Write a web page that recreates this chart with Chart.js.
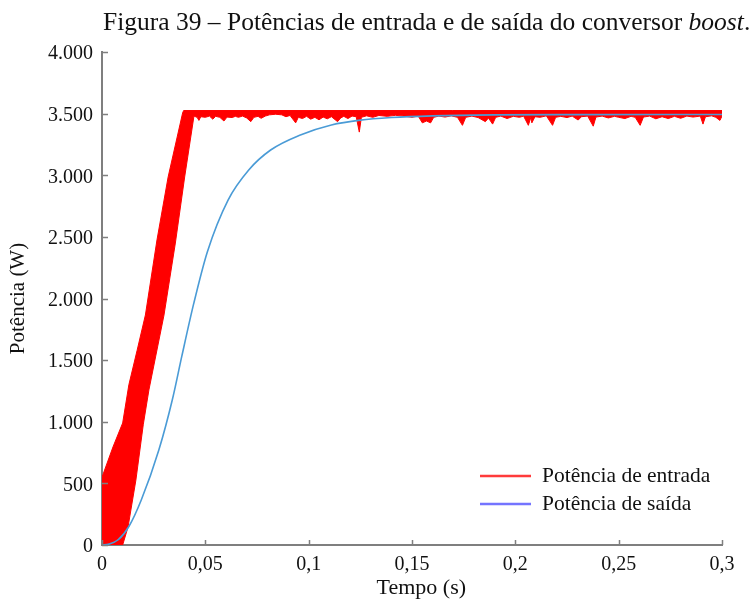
<!DOCTYPE html>
<html>
<head>
<meta charset="utf-8">
<script src="https://cdn.jsdelivr.net/npm/chart.js@4/dist/chart.umd.min.js"></script>
<style>
  html, body { margin: 0; padding: 0; background: #fff; }
  #wrap { position: relative; width: 754px; height: 599px; }
  #ttl {
    position: absolute; left: 103px; top: 9px; white-space: nowrap;
    font-family: 'Liberation Serif', 'Times New Roman', serif;
    font-size: 25.5px; line-height: 25.5px; color: #111;
  }
  canvas { position: absolute; left: 0; top: 0; }
</style>
</head>
<body>
<div id="wrap">
  <canvas id="c" width="754" height="599"></canvas>
  <div id="ttl">Figura 39 – Potências de entrada e de saída do conversor <i>boost</i>.</div>
</div>
<script>
// Axis ticks
const X_TICKS = [0, 0.05, 0.1, 0.15, 0.2, 0.25, 0.3];
const Y_TICKS = [0, 500, 1000, 1500, 2000, 2500, 3000, 3500, 4000];
const X_TITLE = 'Tempo (s)';
const Y_TITLE = 'Potência (W)';

// Series names
const SERIES_IN = 'Potência de entrada';
const SERIES_OUT = 'Potência de saída';

// Input power: the switching ripple forms a band, kept as its upper and lower envelopes [t (s), P (W)]
const inUpper = [
  [0, 550], [0.0053, 795], [0.010, 990], [0.013, 1300], [0.017, 1580], [0.021, 1866],
  [0.0266, 2475], [0.032, 2986], [0.039, 3505], [0.0395, 3525], [0.300, 3525]
];
const inLower = [
  [0, 0], [0.010, 0], [0.0126, 146], [0.0164, 527], [0.020, 980], [0.0227, 1258],
  [0.030, 1866], [0.0355, 2450], [0.040, 2986], [0.0445, 3480],
  [0.0460, 3470], [0.0469, 3445], [0.0478, 3475], [0.050, 3470], [0.052, 3480],
  [0.0536, 3455], [0.055, 3478], [0.057, 3470], [0.059, 3440], [0.0605, 3472],
  [0.063, 3468], [0.0645, 3478], [0.066, 3470], [0.068, 3480], [0.070, 3465],
  [0.072, 3435], [0.0735, 3470], [0.0755, 3478], [0.077, 3462], [0.079, 3480],
  [0.081, 3490], [0.084, 3495], [0.087, 3490], [0.089, 3475], [0.091, 3485],
  [0.0937, 3425], [0.095, 3470], [0.097, 3460], [0.099, 3478], [0.101, 3455],
  [0.103, 3470], [0.105, 3450], [0.107, 3472], [0.109, 3458], [0.111, 3475],
  [0.114, 3435], [0.1155, 3465], [0.117, 3478], [0.119, 3460], [0.121, 3480],
  [0.123, 3475], [0.1245, 3350], [0.1255, 3470], [0.128, 3482], [0.131, 3470],
  [0.134, 3485], [0.138, 3478], [0.142, 3486], [0.146, 3480], [0.150, 3470],
  [0.153, 3480], [0.155, 3425], [0.157, 3440], [0.159, 3425], [0.1605, 3470],
  [0.163, 3480], [0.166, 3472], [0.169, 3482], [0.172, 3470], [0.1744, 3405],
  [0.176, 3470], [0.179, 3480], [0.182, 3468], [0.1855, 3435], [0.187, 3465],
  [0.189, 3415], [0.1905, 3470], [0.193, 3480], [0.196, 3460], [0.199, 3478],
  [0.202, 3470], [0.204, 3480], [0.2063, 3405], [0.2075, 3470], [0.208, 3425],
  [0.2095, 3475], [0.212, 3470], [0.215, 3482], [0.218, 3405], [0.2195, 3470],
  [0.222, 3478], [0.225, 3468], [0.2275, 3480], [0.2304, 3448], [0.232, 3475],
  [0.235, 3480], [0.2377, 3398], [0.239, 3472], [0.242, 3480], [0.245, 3465],
  [0.248, 3478], [0.250, 3470], [0.253, 3460], [0.256, 3478], [0.258, 3470],
  [0.2604, 3405], [0.262, 3472], [0.265, 3480], [0.268, 3458], [0.271, 3475],
  [0.274, 3460], [0.277, 3478], [0.280, 3462], [0.283, 3480], [0.286, 3472],
  [0.2895, 3480], [0.2908, 3415], [0.292, 3475], [0.295, 3482], [0.297, 3470],
  [0.299, 3445], [0.300, 3480]
];

// Output power [t (s), P (W)]
const outPower = [
  [0, 0], [0.003, 5], [0.008, 45], [0.013, 150], [0.019, 365], [0.0275, 770],
  [0.034, 1176], [0.0386, 1530], [0.0444, 1960], [0.051, 2380], [0.061, 2799],
  [0.071, 3043], [0.0816, 3205], [0.096, 3327], [0.111, 3408], [0.125, 3447],
  [0.140, 3468], [0.160, 3482], [0.190, 3490], [0.230, 3492], [0.300, 3493]
];

const RED = '#ff0000';
const BLUE = '#4a9bd6';
const FONT = "'Liberation Serif', 'Times New Roman', serif";
const AXIS_GRAY = '#7f7f7f';

const toXY = p => ({ x: p[0], y: p[1] });
// closed outline of the ripple band: upper edge forward, lower edge back
const bandShape = inUpper.map(toXY).concat(inLower.slice().reverse().map(toXY));

const fmtX = v => v === 0 ? '0' : String(+v.toFixed(2)).replace('.', ',');
const fmtY = v => String(v).replace(/\B(?=(\d{3})+(?!\d))/g, '.');

// tick marks drawn inward from both axes, plus the time-axis caption
const innerTicks = {
  id: 'innerTicks',
  afterDraw(chart) {
    const { ctx, chartArea: a, scales: { x, y } } = chart;
    ctx.save();
    ctx.strokeStyle = AXIS_GRAY;
    ctx.lineWidth = 1.5;
    ctx.beginPath();
    X_TICKS.forEach(v => {
      const px = Math.round(x.getPixelForValue(v)) + 0.5;
      ctx.moveTo(px, a.bottom);
      ctx.lineTo(px, a.bottom - 5);
    });
    Y_TICKS.forEach(v => {
      const py = Math.round(y.getPixelForValue(v)) + 0.5;
      ctx.moveTo(a.left, py);
      ctx.lineTo(a.left + 6, py);
    });
    ctx.stroke();

    ctx.font = '22px ' + FONT;
    ctx.fillStyle = '#111';
    ctx.textAlign = 'center';
    ctx.textBaseline = 'alphabetic';
    ctx.fillText(X_TITLE, x.getPixelForValue(0.1545), a.bottom + 49);
    ctx.restore();
  }
};

// legend in the lower right of the plot
const insideLegend = {
  id: 'insideLegend',
  afterDraw(chart) {
    const { ctx, chartArea: a } = chart;
    const items = [
      { text: SERIES_IN, color: '#ff3b3b' },
      { text: SERIES_OUT, color: '#7474ff' }
    ];
    ctx.save();
    ctx.font = '21.5px ' + FONT;
    ctx.textBaseline = 'middle';
    ctx.fillStyle = '#111';
    items.forEach((it, i) => {
      const yy = a.bottom - 69 + i * 28;
      const x0 = a.right - 242;
      ctx.strokeStyle = it.color;
      ctx.lineWidth = 2.5;
      ctx.beginPath();
      ctx.moveTo(x0, yy);
      ctx.lineTo(x0 + 51, yy);
      ctx.stroke();
      ctx.fillText(it.text, x0 + 62, yy);
    });
    ctx.restore();
  }
};

new Chart(document.getElementById('c'), {
  type: 'line',
  data: {
    datasets: [
      {
        label: SERIES_IN,
        data: bandShape,
        borderColor: RED,
        backgroundColor: RED,
        borderWidth: 1,
        fill: 'shape',
        pointRadius: 0,
        tension: 0,
        order: 1
      },
      {
        label: SERIES_OUT,
        data: outPower.map(toXY),
        borderColor: BLUE,
        borderWidth: 1.6,
        fill: false,
        pointRadius: 0,
        cubicInterpolationMode: 'monotone',
        order: 0
      }
    ]
  },
  options: {
    responsive: false,
    animation: false,
    events: [],
    layout: { padding: { top: 52, right: 32, left: 0, bottom: 0 } },
    plugins: { legend: { display: false }, tooltip: { enabled: false }, title: { display: false } },
    scales: {
      x: {
        type: 'linear',
        min: 0, max: 0.3,
        afterBuildTicks: s => { s.ticks = X_TICKS.map(v => ({ value: v })); },
        afterFit: s => { s.height = 54; },
        grid: { display: true, drawOnChartArea: false, drawTicks: false },
        border: { display: true, color: AXIS_GRAY, width: 2 },
        ticks: {
          color: '#111', padding: 8, maxRotation: 0,
          font: { family: FONT, size: 20 },
          callback: v => fmtX(v)
        },
        title: { display: false }
      },
      y: {
        min: 0, max: 4000,
        afterBuildTicks: s => { s.ticks = Y_TICKS.map(v => ({ value: v })); },
        afterFit: s => { s.width = 102; },
        grid: { display: true, drawOnChartArea: false, drawTicks: false },
        border: { display: true, color: AXIS_GRAY, width: 2 },
        ticks: {
          color: '#111', padding: 9, labelOffset: 2,
          font: { family: FONT, size: 20 },
          callback: v => fmtY(v)
        },
        title: {
          display: true, text: Y_TITLE, color: '#111',
          font: { family: FONT, size: 21 }, padding: { top: 6, bottom: 0 }
        }
      }
    }
  },
  plugins: [innerTicks, insideLegend]
});
</script>
</body>
</html>
